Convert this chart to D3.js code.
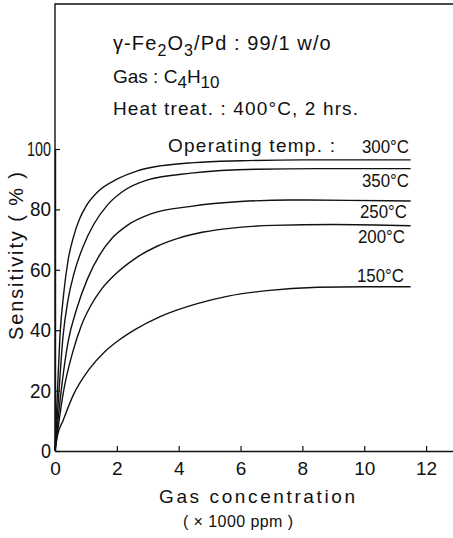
<!DOCTYPE html>
<html>
<head>
<meta charset="utf-8">
<script src="https://cdn.jsdelivr.net/npm/d3@7"></script>
<style>
  html, body { margin: 0; padding: 0; background: #fff; }
  svg { display: block; }
  text { font-family: "Liberation Sans", Arial, sans-serif; fill: #111; }
</style>
</head>
<body>
<svg id="chart" width="453" height="538"></svg>
<script>
// Sensitivity of γ-Fe2O3/Pd (99/1 w/o) to C4H10 versus gas concentration,
// one curve per operating temperature.
const xTicks = [0, 2, 4, 6, 8, 10, 12];
const yTicks = [0, 20, 40, 60, 80, 100];

const temps = ["300°C", "350°C", "250°C", "200°C", "150°C"];

// gas concentration (x1000 ppm) and sensitivity (%) for each temperature
const conc300 = [0, 0.08, 0.16, 0.28, 0.42, 0.6, 0.8, 1.0, 1.4, 2.0, 2.64, 3.4, 4.5, 6.0, 8.0, 11.5];
const sens300 = [0, 20, 38, 52, 63, 71, 77, 81, 86, 90, 92.7, 94.4, 95.5, 96.1, 96.4, 96.4];

const conc350 = [0, 0.13, 0.26, 0.42, 0.62, 0.9, 1.25, 1.7, 2.2, 3.0, 4.4, 6.5, 8.5, 11.5];
const sens350 = [0, 20, 38, 50, 59, 67.5, 75, 81.5, 86, 89.8, 92, 93.3, 93.5, 93.5];

const conc250 = [0, 0.2, 0.42, 0.7, 1.05, 1.45, 1.85, 2.35, 3.1, 4.4, 6.0, 7.6, 9.5, 11.5];
const sens250 = [0, 20, 36, 47, 57, 65, 70.5, 74.8, 78.5, 81, 82.6, 83.1, 83, 82.8];

const conc200 = [0, 0.28, 0.58, 0.85, 1.15, 1.5, 1.95, 2.6, 3.3, 4.0, 4.8, 5.8, 7.06, 9.0, 11.5];
const sens200 = [0, 20, 33, 41.5, 48, 53.5, 58.5, 63.8, 67.8, 70.5, 72.5, 73.9, 74.7, 75, 74.6];

const conc150 = [0, 0.07, 0.27, 0.59, 1.1, 1.6, 2.05, 2.6, 3.4, 4.6, 5.6, 6.85, 8.5, 10.0, 11.5];
const sens150 = [0, 4.7, 10.3, 18.5, 27, 32.8, 36.6, 40.3, 44.5, 48.8, 51.3, 53.1, 54.2, 54.4, 54.4];

const seriesConc = [conc300, conc350, conc250, conc200, conc150];
const seriesSens = [sens300, sens350, sens250, sens200, sens150];

const svg = d3.select("#chart");

const x = d3.scaleLinear().domain([0, 12.87]).range([55, 453]);
const y = d3.scaleLinear().domain([0, 100]).range([451, 149]);

// frame: left side and top edge of the plotting box
svg.append("path")
  .attr("d", `M${x(0)},${y(0)}V4H453`)
  .attr("fill", "none")
  .attr("stroke", "#111")
  .attr("stroke-width", 1.4);

// x axis with inward ticks
const xAxis = svg.append("g")
  .attr("transform", `translate(0,${y(0)})`)
  .call(d3.axisBottom(x).tickValues(xTicks).tickSizeInner(-5).tickSizeOuter(0).tickPadding(11));
xAxis.select(".domain").attr("stroke", "#111").attr("stroke-width", 1.4);
xAxis.selectAll(".tick line").attr("stroke", "#111").attr("stroke-width", 1.2);
xAxis.selectAll(".tick text")
  .attr("font-size", 19)
  .attr("font-family", "Liberation Sans, Arial, sans-serif")
  .attr("fill", "#111");

// y axis with inward ticks
const yAxis = svg.append("g")
  .attr("transform", `translate(${x(0)},0)`)
  .call(d3.axisLeft(y).tickValues(yTicks).tickSizeInner(-5).tickSizeOuter(0).tickPadding(4));
yAxis.select(".domain").attr("stroke", "#111").attr("stroke-width", 1.4);
yAxis.selectAll(".tick line").attr("stroke", "#111").attr("stroke-width", 1.2);
yAxis.selectAll(".tick text")
  .attr("font-size", 20)
  .attr("font-family", "Liberation Sans, Arial, sans-serif")
  .attr("fill", "#111")
  .attr("textLength", d => d === 100 ? 24 : (d === 0 ? 10 : 21))
  .attr("lengthAdjust", "spacingAndGlyphs");

// curves
const line = d3.line()
  .x(d => x(d[0]))
  .y(d => y(d[1]))
  .curve(d3.curveMonotoneX);

seriesConc.forEach((cs, i) => {
  const pts = cs.map((c, j) => [c, seriesSens[i][j]]);
  svg.append("path")
    .datum(pts)
    .attr("d", line)
    .attr("fill", "none")
    .attr("stroke", "#111")
    .attr("stroke-width", 1.4);
});

// temperature labels at the right end of each curve
const labelPos = [
  { x: 362, y: 153 },
  { x: 362, y: 187 },
  { x: 360, y: 218 },
  { x: 358, y: 243 },
  { x: 357, y: 282 }
];
temps.forEach((t, i) => {
  svg.append("text")
    .attr("x", labelPos[i].x)
    .attr("y", labelPos[i].y)
    .attr("font-size", 19)
    .attr("textLength", 47)
    .attr("lengthAdjust", "spacingAndGlyphs")
    .text(t);
});

svg.append("text")
  .attr("x", 168).attr("y", 152)
  .attr("font-size", 19)
  .attr("textLength", 167)
  .attr("lengthAdjust", "spacing")
  .text("Operating temp. :");

// sample description
const t1 = svg.append("text").attr("x", 113).attr("y", 50)
  .attr("font-size", 20).attr("letter-spacing", 1.1);
t1.append("tspan").text("γ-Fe");
t1.append("tspan").attr("dy", 6).attr("font-size", 16).text("2");
t1.append("tspan").attr("dy", -6).text("O");
t1.append("tspan").attr("dy", 6).attr("font-size", 16).text("3");
t1.append("tspan").attr("dy", -6).text("/Pd : 99/1 w/o");

const t2 = svg.append("text").attr("x", 113).attr("y", 83).attr("font-size", 19);
t2.append("tspan").text("Gas : C");
t2.append("tspan").attr("dy", 5).attr("font-size", 17).text("4");
t2.append("tspan").attr("dy", -5).text("H");
t2.append("tspan").attr("dy", 5).attr("font-size", 17).text("10");

svg.append("text")
  .attr("x", 113).attr("y", 115)
  .attr("font-size", 19)
  .attr("textLength", 245)
  .attr("lengthAdjust", "spacing")
  .text("Heat treat. : 400°C, 2 hrs.");

// axis titles
svg.append("text")
  .attr("transform", "translate(23,256) rotate(-90)")
  .attr("text-anchor", "middle")
  .attr("font-size", 20)
  .attr("textLength", 168)
  .attr("lengthAdjust", "spacing")
  .text("Sensitivity ( % )");

svg.append("text")
  .attr("x", 257).attr("y", 503)
  .attr("text-anchor", "middle")
  .attr("font-size", 19)
  .attr("textLength", 196)
  .attr("lengthAdjust", "spacing")
  .text("Gas concentration");

svg.append("text")
  .attr("x", 238).attr("y", 527)
  .attr("text-anchor", "middle")
  .attr("font-size", 16)
  .attr("textLength", 110)
  .attr("lengthAdjust", "spacing")
  .text("( × 1000 ppm )");
</script>
</body>
</html>
